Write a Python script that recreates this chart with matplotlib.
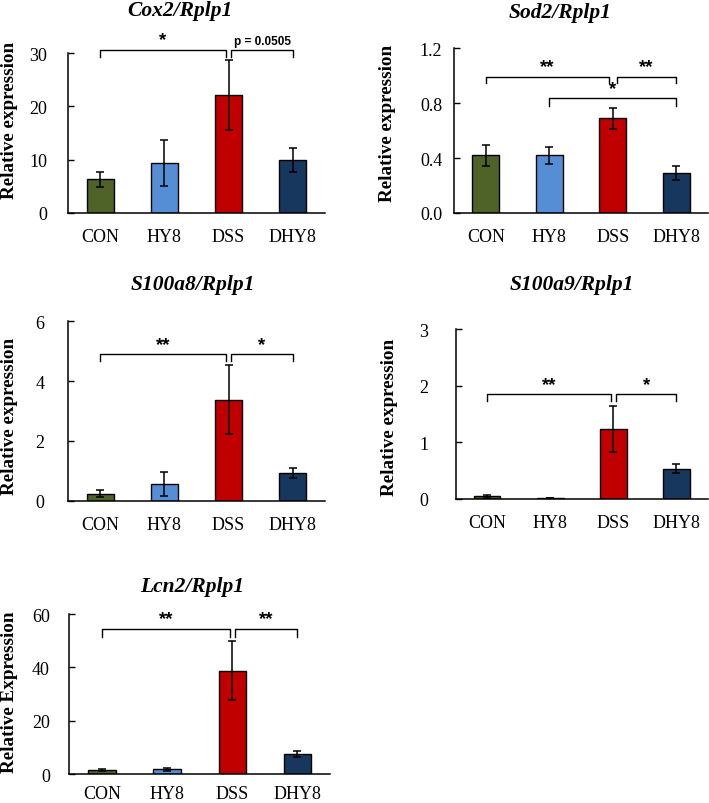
# Relative expression of inflammatory genes, five bar panels
import numpy as np
import matplotlib.pyplot as plt

plt.rcParams["font.family"] = "Liberation Serif"

# Data
groups = ["CON", "HY8", "DSS", "DHY8"]
colors = ["#4F6228", "#558ED5", "#C00000", "#17375E"]

cox2_mean = [6.3, 9.4, 22.1, 9.9]
cox2_err = [1.35, 4.25, 6.6, 2.3]

sod2_mean = [0.42, 0.42, 0.69, 0.29]
sod2_err = [0.075, 0.06, 0.075, 0.05]

s100a8_mean = [0.24, 0.56, 3.38, 0.93]
s100a8_err = [0.11, 0.41, 1.15, 0.18]

s100a9_mean = [0.047, 0.018, 1.24, 0.536]
s100a9_err = [0.023, 0.006, 0.41, 0.085]

lcn2_mean = [1.6, 1.9, 38.8, 7.6]
lcn2_err = [0.45, 0.5, 11.0, 1.3]

# Significance brackets: (x1, x2, y, drop, label)
cox2_sig = [(0, 1.96, 30.6, 1.3, "*"), (2.04, 3, 30.6, 1.3, "p = 0.0505")]
sod2_sig = [(0, 1.94, 0.994, 0.05, "**"), (2.06, 3, 0.994, 0.05, "**"),
            (1, 3, 0.836, 0.055, "*")]
s100a8_sig = [(0, 1.96, 4.9, 0.22, "**"), (2.04, 3, 4.9, 0.22, "*")]
s100a9_sig = [(0, 1.96, 1.85, 0.12, "**"), (2.04, 3, 1.85, 0.12, "*")]
lcn2_sig = [(0, 1.96, 54.4, 2.9, "**"), (2.04, 3, 54.4, 2.9, "**")]

W, H = 709, 804
fig = plt.figure(figsize=(W / 100, H / 100), dpi=100)

def px_axes(left, right, top, bottom):
    return fig.add_axes([left / W, 1 - bottom / H, (right - left) / W, (bottom - top) / H])

def panel(box, mean, err, ymax, yticks, fmt, sig, title, title_xy, ylabel, ylabel_xy, ypad, xpad=11):
    ax = px_axes(*box)
    x = np.arange(len(groups))
    ax.bar(x, mean, width=0.42, color=colors, edgecolor="black", linewidth=1.0, zorder=2)
    ax.errorbar(x, mean, yerr=err, fmt="none", ecolor="black", elinewidth=1.1,
                capsize=3, capthick=1.1, zorder=3)
    ax.set_xlim(-0.5, 3.5)
    ax.set_ylim(0, ymax)
    ax.set_yticks(yticks)
    ax.set_yticklabels([fmt.format(v) for v in yticks], fontsize=13)
    ax.set_xticks(x)
    ax.set_xticklabels(groups, fontsize=13)
    ax.tick_params(axis="x", length=0, pad=xpad)
    ax.tick_params(axis="y", direction="in", length=4.5, width=1.0, pad=ypad)
    for s in ["top", "right"]:
        ax.spines[s].set_visible(False)
    for s in ["left", "bottom"]:
        ax.spines[s].set_linewidth(1.1)
    for x1, x2, y, d, lab in sig:
        ax.plot([x1, x1, x2, x2], [y - d, y, y, y - d], color="black", lw=1.0,
                clip_on=False, solid_joinstyle="round")
        if lab.startswith("p"):
            ax.text((x1 + x2) / 2, y + d * 0.4, lab, ha="center", va="bottom",
                    fontsize=8.5, fontweight="bold", family="Liberation Sans")
        else:
            ax.text((x1 + x2) / 2, y + d * 0.2, lab, ha="center", va="bottom",
                    fontsize=13.5, fontweight="bold", family="Liberation Sans")
    fig.text(title_xy[0] / W, 1 - title_xy[1] / H, title, ha="center", va="center",
             fontsize=15.5, fontweight="bold", style="italic")
    fig.text(ylabel_xy[0] / W, 1 - ylabel_xy[1] / H, ylabel, ha="center", va="center",
             rotation=90, fontsize=13.8, fontweight="bold")
    return ax

panel((68, 325, 54, 214), cox2_mean, cox2_err, 30, [0, 10, 20, 30], "{:g}", cox2_sig,
      "Cox2/Rplp1", (180, 11), "Relative expression", (10, 120), 15)
panel((454, 708, 49.3, 214), sod2_mean, sod2_err, 1.2, [0.0, 0.4, 0.8, 1.2], "{:.1f}", sod2_sig,
      "Sod2/Rplp1", (560, 13), "Relative expression", (388, 123), 8.5)
panel((68, 325, 322.3, 501.7), s100a8_mean, s100a8_err, 6, [0, 2, 4, 6], "{:g}", s100a8_sig,
      "S100a8/Rplp1", (193, 285), "Relative expression", (10, 416), 17)
panel((455.7, 708, 330.3, 500), s100a9_mean, s100a9_err, 3, [0, 1, 2, 3], "{:g}", s100a9_sig,
      "S100a9/Rplp1", (572, 285), "Relative expression", (389, 417), 19.5)
panel((69.3, 330, 615, 775.3), lcn2_mean, lcn2_err, 60, [0, 20, 40, 60], "{:g}", lcn2_sig,
      "Lcn2/Rplp1", (192, 587), "Relative Expression", (10, 692), 14, xpad=8)

fig.savefig("out.png", dpi=100)
